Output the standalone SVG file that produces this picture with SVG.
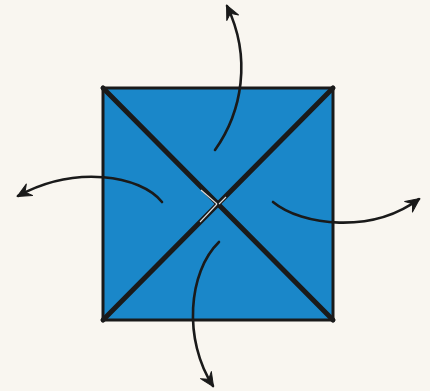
<svg xmlns="http://www.w3.org/2000/svg" width="430" height="391" viewBox="0 0 430 391">
<style>
.arrow{fill:none;stroke:#1a1a1a;stroke-width:2.6;stroke-linecap:round}
.diag{stroke:#1a1a1a;stroke-width:5;stroke-linecap:round}
.crease{stroke:#ffffff;stroke-width:1.1;opacity:0.85}
</style>
<defs>
<marker id="head" markerUnits="userSpaceOnUse" markerWidth="20" markerHeight="20" viewBox="-16 -10 20 20" refX="0" refY="0" orient="auto">
<path d="M1,0 L-13,-6.5 L-8,0 L-13,6.5 Z" fill="#1a1a1a" stroke="#1a1a1a" stroke-width="1" stroke-linejoin="round"/>
</marker>
</defs>
<rect width="430" height="391" fill="#f9f6f0"/>
<g id="square">
<rect x="103" y="88" width="230" height="232" fill="#1a87c9" stroke="#1a1a1a" stroke-width="3"/>
<line class="diag" x1="103" y1="88" x2="333" y2="320"/>
<line class="diag" x1="333" y1="88" x2="103" y2="320"/>
<line class="crease" x1="201" y1="190" x2="217" y2="204"/>
<line class="crease" x1="217" y1="204" x2="200" y2="222"/>
<line class="crease" x1="219" y1="204" x2="226" y2="197"/>
</g>
<g id="connectors">
<path class="arrow" d="M215,150 C242,112 252,58 227,6" marker-end="url(#head)"/>
<path class="arrow" d="M162,202 C140,175 75,165 18,196" marker-end="url(#head)"/>
<path class="arrow" d="M273,202 C302,226 372,234 419,199" marker-end="url(#head)"/>
<path class="arrow" d="M219,242 C188,272 183,340 213,386" marker-end="url(#head)"/>
</g>
</svg>
